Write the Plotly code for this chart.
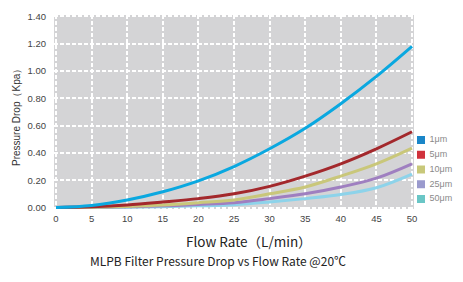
import plotly.graph_objects as go

flow = [0, 5, 10, 15, 20, 25, 30, 35, 40, 45, 50]
dp_1um = [0, 0.015, 0.055, 0.115, 0.195, 0.30, 0.43, 0.58, 0.76, 0.96, 1.18]
dp_5um = [0, 0.005, 0.018, 0.04, 0.065, 0.10, 0.155, 0.23, 0.32, 0.43, 0.555]
dp_10um = [0, 0.002, 0.008, 0.018, 0.035, 0.055, 0.10, 0.15, 0.23, 0.32, 0.435]
dp_25um = [0, 0.001, 0.005, 0.012, 0.022, 0.035, 0.065, 0.10, 0.15, 0.215, 0.32]
dp_50um = [0, 0, 0.002, 0.006, 0.012, 0.02, 0.04, 0.065, 0.095, 0.145, 0.245]

names = ["1μm", "5μm", "10μm", "25μm", "50μm"]
series = [dp_1um, dp_5um, dp_10um, dp_25um, dp_50um]
line_colors = ["#0aa8e0", "#a3282c", "#c9c77a", "#9f7fc0", "#8dd3ea"]
legend_colors = ["#1a86c8", "#d0323c", "#c8c87a", "#9a9acd", "#6ac6c6"]

x_ticks = [0, 5, 10, 15, 20, 25, 30, 35, 40, 45, 50]
y_ticks = [0, 0.2, 0.4, 0.6, 0.8, 1.0, 1.2, 1.4]
y_labels = ["0.00", "0.20", "0.40", "0.60", "0.80", "1.00", "1.20", "1.40"]

# page body has an 8px margin, so the figure is drawn offset by 8px
OFF = 8
W, H = 463 - OFF, 282 - OFF
PLOT_L, PLOT_R, PLOT_T, PLOT_B = 54, 414, 15, 209   # page pixels of main plot
ML, MT = PLOT_L - OFF, PLOT_T - OFF
MR = 0
MB = H - (PLOT_B - OFF)
pw = W - ML - MR
ph = H - MT - MB
main_frac = (PLOT_R - PLOT_L) / pw


def px(xp):
    return (xp - OFF - ML) / pw


def py(yp):
    return (H - MB - (yp - OFF)) / ph


fig = go.Figure()
# draw in reverse so 1um is on top
for name, ys, lc in reversed(list(zip(names, series, line_colors))):
    fig.add_trace(go.Scatter(x=flow, y=ys, mode="lines", name=name,
                             line=dict(color=lc, width=3, shape="spline"),
                             showlegend=False, hoverinfo="skip",
                             xaxis="x", yaxis="y"))

# legend drawn as a small side panel (category axis, one row per series)
fig.add_trace(go.Scatter(x=[0] * len(names), y=names, mode="markers+text",
                         text=names, texttemplate=" %{text}",
                         textposition="middle right", cliponaxis=False,
                         textfont=dict(family="Liberation Sans, Arial", size=9,
                                       color="#8a8a8a"),
                         marker=dict(symbol="square", size=8, color=legend_colors),
                         showlegend=False, hoverinfo="skip",
                         xaxis="x2", yaxis="y2"))

# legend panel: page x 414..463, first row at y=140, row step 14.75 px
leg_left, leg_right, mark_x = PLOT_R, 463, 421
row0, step = 140, 14.75
y2_top = -(row0 - PLOT_T) / step
y2_bot = (len(names) - 1) + (PLOT_B - (row0 + step * (len(names) - 1))) / step

grid = dict(showgrid=True, gridcolor="white", gridwidth=1.5, griddash="4px,2px",
            zeroline=False, showline=False, ticks="")

fig.update_layout(
    width=W, height=H,
    margin=dict(l=ML, r=MR, t=MT, b=MB, autoexpand=False),
    paper_bgcolor="white", plot_bgcolor="white",
    font=dict(family="Liberation Sans, Arial", size=9, color="#555555"),
    showlegend=False,
    xaxis=dict(domain=[0, main_frac], range=[-0.28, 50.28], tickvals=x_ticks,
               ticklabelstandoff=2, tickfont=dict(size=9.5, color="#444444"),
               anchor="y", **grid),
    yaxis=dict(range=[-0.011, 1.41], tickvals=y_ticks, ticktext=y_labels,
               ticklabelstandoff=7, tickfont=dict(size=9.5, color="#444444"),
               anchor="x", **grid),
    xaxis2=dict(domain=[main_frac, 1], range=[leg_left - mark_x, leg_right - mark_x],
                visible=False, anchor="y2"),
    yaxis2=dict(type="category", categoryarray=names, range=[y2_bot, y2_top],
                visible=False, anchor="x2"),
    shapes=[dict(type="rect", xref="x domain", yref="y domain", x0=0, x1=1,
                 y0=0, y1=1, fillcolor="#d4d4d6", line=dict(width=0),
                 layer="below")],
)

fig.add_annotation(text="Pressure Drop（Kpa）", x=px(17), y=py(115),
                   xref="paper", yref="paper", showarrow=False, textangle=-90,
                   xanchor="center", yanchor="middle",
                   font=dict(family="Liberation Sans, Arial", size=10, color="#333333"))
fig.add_annotation(text="Flow Rate（L/min）", x=px(249), y=py(241),
                   xref="paper", yref="paper", showarrow=False,
                   xanchor="center", yanchor="middle",
                   font=dict(family="Noto Sans CJK SC", size=13.5, color="#222222"))
fig.add_annotation(text="MLPB Filter Pressure Drop vs Flow Rate @20℃",
                   x=px(218), y=py(260), xref="paper", yref="paper", showarrow=False,
                   xanchor="center", yanchor="middle",
                   font=dict(family="Noto Sans CJK SC", size=12, color="#222222"))

fig.write_html("out.html")
